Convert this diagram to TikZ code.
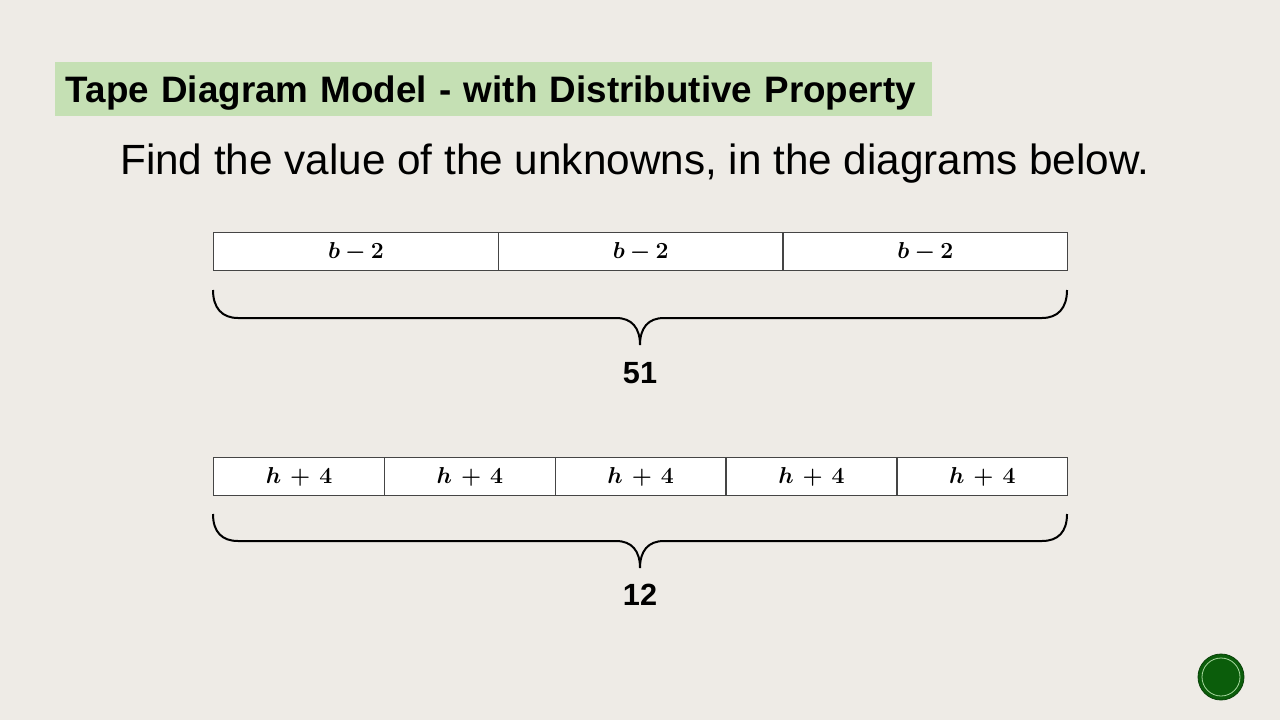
\documentclass[tikz,border=0pt]{standalone}
\usepackage{amsmath,bm}
\usepackage{fontspec}
\setmainfont{Liberation Sans}
\definecolor{paper}{HTML}{EEEBE6}
\definecolor{titlegreen}{HTML}{C5E0B4}
\definecolor{cellline}{HTML}{454545}
\definecolor{btngreen}{HTML}{0B5D0B}
\definecolor{btnring}{HTML}{A8D8A0}
\tikzset{
  cell/.style={draw=cellline, line width=1pt, fill=white, anchor=north west,
    minimum height=28.5pt, inner sep=0pt, font=\fontsize{18}{21}\selectfont},
  cellA/.style={cell, minimum width=213.5pt},
  cellB/.style={cell, minimum width=128.1pt},
  bracepath/.style={draw=black, line width=1.5pt},
  total/.style={font=\fontsize{23}{27}\selectfont\bfseries, inner sep=0pt},
}
\begin{document}
\begin{tikzpicture}[x=0.75pt, y=-0.75pt]
\fill[paper] (0,0) rectangle (1280,720);
\useasboundingbox (0,0) rectangle (1280,720);

\node[fill=titlegreen, anchor=north west, minimum height=40.5pt, text width=641.75pt,
  text depth=0pt, inner xsep=8pt, inner ysep=0pt, align=left,
  font=\fontsize{27.6}{32}\selectfont\bfseries]
  (title) at (55,62) {Tape Diagram Model - with Distributive Property};

\node[anchor=base west, inner sep=0pt, font=\fontsize{31.7}{36}\selectfont]
  (task) at (120,175) {Find the value of the unknowns, in the diagrams below.};

% tape 1
\node[cellA] (a1) at (213,232) {$\bm{b-2}$};
\node[cellA] (a2) at (497.67,232) {$\bm{b-2}$};
\node[cellA] (a3) at (782.33,232) {$\bm{b-2}$};

\draw[bracepath] (213,290) .. controls (213,308) and (222,318) .. (238,318)
  -- (616,318) .. controls (632,318) and (640,328) .. (640,345)
  .. controls (640,328) and (648,318) .. (664,318)
  -- (1042,318) .. controls (1058,318) and (1067,308) .. (1067,290);
\node[total] (s1) at (640,373) {51};

% tape 2
\node[cellB] (b1) at (213,457) {$\bm{h\,+\,4}$};
\node[cellB] (b2) at (383.8,457) {$\bm{h\,+\,4}$};
\node[cellB] (b3) at (554.6,457) {$\bm{h\,+\,4}$};
\node[cellB] (b4) at (725.4,457) {$\bm{h\,+\,4}$};
\node[cellB] (b5) at (896.2,457) {$\bm{h\,+\,4}$};

\draw[bracepath] (213,514) .. controls (213,532) and (222,541) .. (238,541)
  -- (616,541) .. controls (632,541) and (640,551) .. (640,568)
  .. controls (640,551) and (648,541) .. (664,541)
  -- (1042,541) .. controls (1058,541) and (1067,532) .. (1067,514);
\node[total] (s2) at (640,595) {12};

% navigation button
\node[circle, fill=btngreen, draw=btngreen!70!black, line width=0.6pt, minimum size=34.5pt, inner sep=0pt] (btn) at (1221,677) {};
\draw[btnring, line width=0.6pt] (btn.center) circle[radius=19];
\end{tikzpicture}
\end{document}
